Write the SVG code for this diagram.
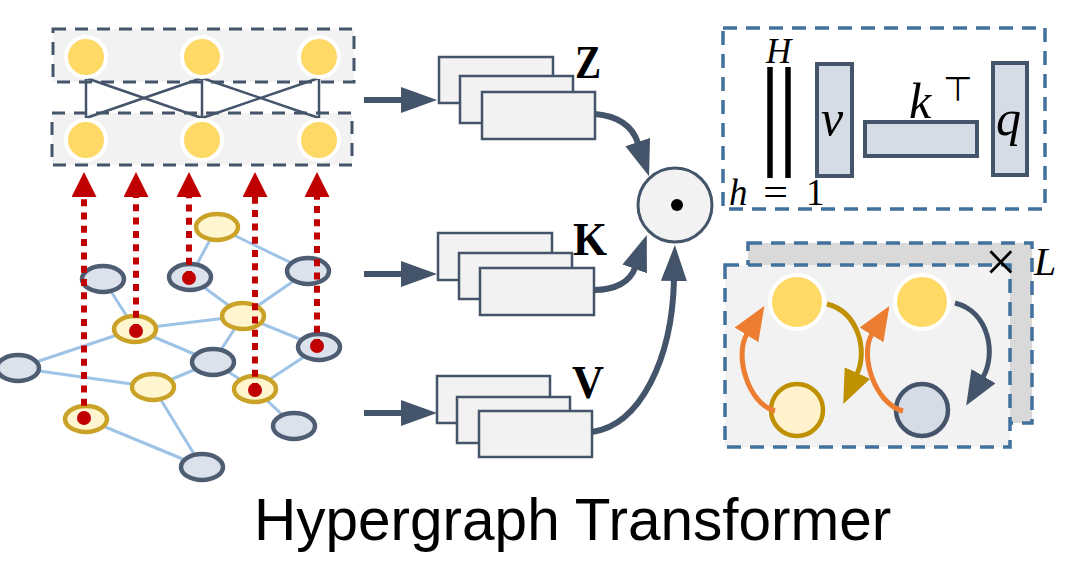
<svg xmlns="http://www.w3.org/2000/svg" width="1080" height="581" viewBox="0 0 1080 581">
<style>
.dbox{fill:#f2f2f2;stroke:#44546a;stroke-width:3;stroke-dasharray:13 9}
.bbox{stroke:#41719c;stroke-width:3.5;stroke-dasharray:14 9}
.ynode{fill:#ffd966;stroke:#ffffff;stroke-width:4}
.lk{stroke:#44546a;stroke-width:2.5;fill:none}
.edge{stroke:#9dc3e6;stroke-width:3;fill:none}
.gy{fill:#fff6d0;stroke:#c9a227;stroke-width:4.5}
.gg{fill:#dbe2ec;stroke:#4f5d73;stroke-width:4.5}
.red{stroke:#c00000;stroke-width:6;stroke-dasharray:7 6.3;fill:none}
.arr{stroke:#44546a;stroke-width:6;fill:none}
.card{fill:#f2f2f2;stroke:#44546a;stroke-width:2.5}
.mat{fill:#d6dce5;stroke:#44546a;stroke-width:4}
.bold{font-family:"Liberation Serif","DejaVu Serif",serif;font-weight:bold;font-size:46px;fill:#000}
.mi{font-family:"Liberation Serif","DejaVu Serif",serif;font-style:italic;fill:#000}
.mu{font-family:"Liberation Serif","DejaVu Serif",serif;fill:#000}
</style>
<defs>
<marker id="ah" markerUnits="userSpaceOnUse" viewBox="0 0 36 26" markerWidth="36" markerHeight="26" refX="1" refY="13" orient="auto">
<path d="M0,0 L36,13 L0,26 z" fill="#44546a"/>
</marker>
<marker id="rh" markerUnits="userSpaceOnUse" viewBox="0 0 25 25" markerWidth="25" markerHeight="25" refX="1" refY="12.5" orient="auto">
<path d="M0,0 L25,12.5 L0,25 z" fill="#c00000"/>
</marker>
<marker id="oh" markerUnits="userSpaceOnUse" viewBox="0 0 34 28" markerWidth="34" markerHeight="28" refX="1" refY="14" orient="auto">
<path d="M0,0 L34,14 L0,28 z" fill="#ed7d31"/>
</marker>
<marker id="gh" markerUnits="userSpaceOnUse" viewBox="0 0 34 28" markerWidth="34" markerHeight="28" refX="1" refY="14" orient="auto">
<path d="M0,0 L34,14 L0,28 z" fill="#bf9000"/>
</marker>
<marker id="sh" markerUnits="userSpaceOnUse" viewBox="0 0 34 28" markerWidth="34" markerHeight="28" refX="1" refY="14" orient="auto">
<path d="M0,0 L34,14 L0,28 z" fill="#44546a"/>
</marker>
</defs>

<!-- Hypergraph (left) -->
<g id="hypergraph">
<g class="edges">
<line class="edge" x1="217" y1="227" x2="190" y2="277"/>
<line class="edge" x1="217" y1="227" x2="308" y2="271"/>
<line class="edge" x1="103" y1="279" x2="135" y2="329"/>
<line class="edge" x1="190" y1="277" x2="243" y2="316"/>
<line class="edge" x1="308" y1="271" x2="243" y2="316"/>
<line class="edge" x1="135" y1="329" x2="243" y2="316"/>
<line class="edge" x1="135" y1="329" x2="18" y2="368"/>
<line class="edge" x1="135" y1="329" x2="213" y2="362"/>
<line class="edge" x1="243" y1="316" x2="319" y2="347"/>
<line class="edge" x1="243" y1="316" x2="213" y2="362"/>
<line class="edge" x1="18" y1="368" x2="153" y2="387"/>
<line class="edge" x1="213" y1="362" x2="153" y2="387"/>
<line class="edge" x1="213" y1="362" x2="255" y2="389"/>
<line class="edge" x1="255" y1="389" x2="319" y2="347"/>
<line class="edge" x1="255" y1="389" x2="294" y2="426"/>
<line class="edge" x1="153" y1="387" x2="202" y2="467"/>
<line class="edge" x1="86" y1="419" x2="202" y2="467"/>
</g>
<ellipse class="gy" cx="217" cy="227" rx="21" ry="13"/>
<ellipse class="gg" cx="103" cy="279" rx="21" ry="13"/>
<ellipse class="gg" cx="190" cy="277" rx="21" ry="13"/>
<ellipse class="gg" cx="308" cy="271" rx="21" ry="13"/>
<ellipse class="gy" cx="243" cy="316" rx="21" ry="13"/>
<ellipse class="gy" cx="135" cy="329" rx="21" ry="13"/>
<ellipse class="gg" cx="319" cy="347" rx="21" ry="13"/>
<ellipse class="gg" cx="18" cy="368" rx="21" ry="13"/>
<ellipse class="gg" cx="213" cy="362" rx="21" ry="13"/>
<ellipse class="gy" cx="153" cy="387" rx="21" ry="13"/>
<ellipse class="gy" cx="255" cy="389" rx="21" ry="13"/>
<ellipse class="gy" cx="86" cy="419" rx="21" ry="13"/>
<ellipse class="gg" cx="294" cy="426" rx="21" ry="13"/>
<ellipse class="gg" cx="202" cy="467" rx="21" ry="13"/>
</g>

<!-- Node layers (top-left) -->
<g id="node-layers">
<rect class="dbox" x="53" y="29" width="301" height="53"/>
<rect class="dbox" x="52" y="113" width="300" height="52"/>
<g class="links">
<line class="lk" x1="86" y1="78" x2="86" y2="118"/>
<line class="lk" x1="202" y1="78" x2="202" y2="118"/>
<line class="lk" x1="319" y1="78" x2="319" y2="118"/>
<line class="lk" x1="86" y1="78" x2="202" y2="118"/>
<line class="lk" x1="202" y1="78" x2="86" y2="118"/>
<line class="lk" x1="202" y1="78" x2="319" y2="118"/>
<line class="lk" x1="319" y1="78" x2="202" y2="118"/>
</g>
<circle class="ynode" cx="86" cy="57" r="20"/>
<circle class="ynode" cx="202" cy="57" r="20"/>
<circle class="ynode" cx="319" cy="57" r="20"/>
<circle class="ynode" cx="86" cy="140" r="20"/>
<circle class="ynode" cx="202" cy="140" r="20"/>
<circle class="ynode" cx="319" cy="140" r="20"/>
</g>

<!-- Red projection arrows -->
<g id="projections">
<path class="red" d="M84,419 L84,196" marker-end="url(#rh)"/>
<path class="red" d="M136,331 L136,196" marker-end="url(#rh)"/>
<path class="red" d="M189,278 L189,196" marker-end="url(#rh)"/>
<path class="red" d="M255,390 L255,196" marker-end="url(#rh)"/>
<path class="red" d="M317,346 L317,196" marker-end="url(#rh)"/>
<g fill="#c00000">
<circle cx="84" cy="418" r="7"/>
<circle cx="136" cy="331" r="7"/>
<circle cx="189" cy="278" r="7"/>
<circle cx="255" cy="390" r="7"/>
<circle cx="317" cy="346" r="7"/>
</g>
</g>

<!-- Z / K / V stacks -->
<g id="stack-Z">
<rect class="card" x="439" y="57" width="114" height="46"/>
<rect class="card" x="460" y="76" width="113" height="47"/>
<rect class="card" x="482" y="92" width="113" height="47"/>
<text class="bold" x="575" y="78" textLength="26" lengthAdjust="spacingAndGlyphs">Z</text>
</g>
<g id="stack-K">
<rect class="card" x="438" y="233" width="114" height="47"/>
<rect class="card" x="459" y="253" width="113" height="46"/>
<rect class="card" x="480" y="268" width="114" height="47"/>
<text class="bold" x="573" y="255" textLength="34" lengthAdjust="spacingAndGlyphs">K</text>
</g>
<g id="stack-V">
<rect class="card" x="437" y="376" width="113" height="47"/>
<rect class="card" x="457" y="397" width="113" height="46"/>
<rect class="card" x="479" y="411" width="113" height="46"/>
<text class="bold" x="572" y="398" textLength="32" lengthAdjust="spacingAndGlyphs">V</text>
</g>

<!-- product node -->
<g id="product">
<circle cx="675" cy="205" r="37" fill="#f2f2f2" stroke="#44546a" stroke-width="3"/>
<circle cx="677" cy="205" r="6" fill="#000"/>
</g>

<!-- connectors -->
<g id="connectors">
<path class="arr" d="M364,100 L402,100" marker-end="url(#ah)"/>
<path class="arr" d="M364,274 L402,274" marker-end="url(#ah)"/>
<path class="arr" d="M364,413 L402,413" marker-end="url(#ah)"/>
<path class="arr" d="M595,114 C618,116 632,125 638,143" marker-end="url(#ah)"/>
<path class="arr" d="M594,290 C615,290 630,282 635,268" marker-end="url(#ah)"/>
<path class="arr" d="M592,432 C640,425 672,360 674,280" marker-end="url(#ah)"/>
</g>

<!-- attention box (top right) -->
<g id="attention-box">
<rect class="bbox" x="723" y="28" width="322" height="181" fill="none"/>
<line x1="770" y1="67" x2="770" y2="178" stroke="#000" stroke-width="5.5"/>
<line x1="788" y1="67" x2="788" y2="178" stroke="#000" stroke-width="5.5"/>
<text class="mi" x="766" y="63" font-size="35">H</text>
<text class="mi" x="729" y="205" font-size="37">h</text>
<text class="mu" x="763" y="205" font-size="37" textLength="25" lengthAdjust="spacingAndGlyphs">=</text>
<text class="mu" x="806" y="205" font-size="37">1</text>
<rect class="mat" x="817" y="64" width="35" height="112"/>
<text class="mi" x="821" y="135" font-size="50">v</text>
<rect class="mat" x="865" y="122" width="112" height="34"/>
<text class="mi" x="909" y="118" font-size="50">k</text>
<text x="943" y="101" font-family="DejaVu Sans, sans-serif" font-size="34" fill="#000">⊤</text>
<rect class="mat" x="993" y="63" width="34" height="112"/>
<text class="mi" x="996" y="135" font-size="50">q</text>
</g>

<!-- message passing layers (bottom right) -->
<g id="layers">
<rect class="bbox" x="748" y="243" width="284" height="180" fill="#d9d9d9"/>
<rect class="bbox" x="725" y="265" width="285" height="182" fill="#f2f2f2"/>
<text x="985" y="281" font-family="Liberation Serif, serif" font-size="56" fill="#000">×</text>
<text class="mi" x="1034" y="275" font-size="40">L</text>
</g>
<g id="mp-left">
<circle cx="797" cy="302" r="27" fill="#ffd966" stroke="#fff" stroke-width="4"/>
<circle cx="797" cy="410" r="26" fill="#fff2cc" stroke="#bf9000" stroke-width="4.5"/>
</g>
<g id="mp-right">
<circle cx="922" cy="302" r="27" fill="#ffd966" stroke="#fff" stroke-width="4"/>
<circle cx="922" cy="410" r="26" fill="#d6dce5" stroke="#44546a" stroke-width="4.5"/>
</g>
<g id="mp-connectors" fill="none" stroke-width="5">
<path d="M775,411 C748,404 734,355 747,334" stroke="#ed7d31" marker-end="url(#oh)"/>
<path d="M827,304 C858,312 868,350 857,374" stroke="#bf9000" marker-end="url(#gh)"/>
<path d="M903,411 C875,404 859,355 872,334" stroke="#ed7d31" marker-end="url(#oh)"/>
<path d="M955,303 C990,312 996,355 983,377" stroke="#44546a" marker-end="url(#sh)"/>
</g>

<text x="254" y="540" font-family="Liberation Sans, Arial, sans-serif" font-size="58.5" fill="#000">Hypergraph Transformer</text>
</svg>
